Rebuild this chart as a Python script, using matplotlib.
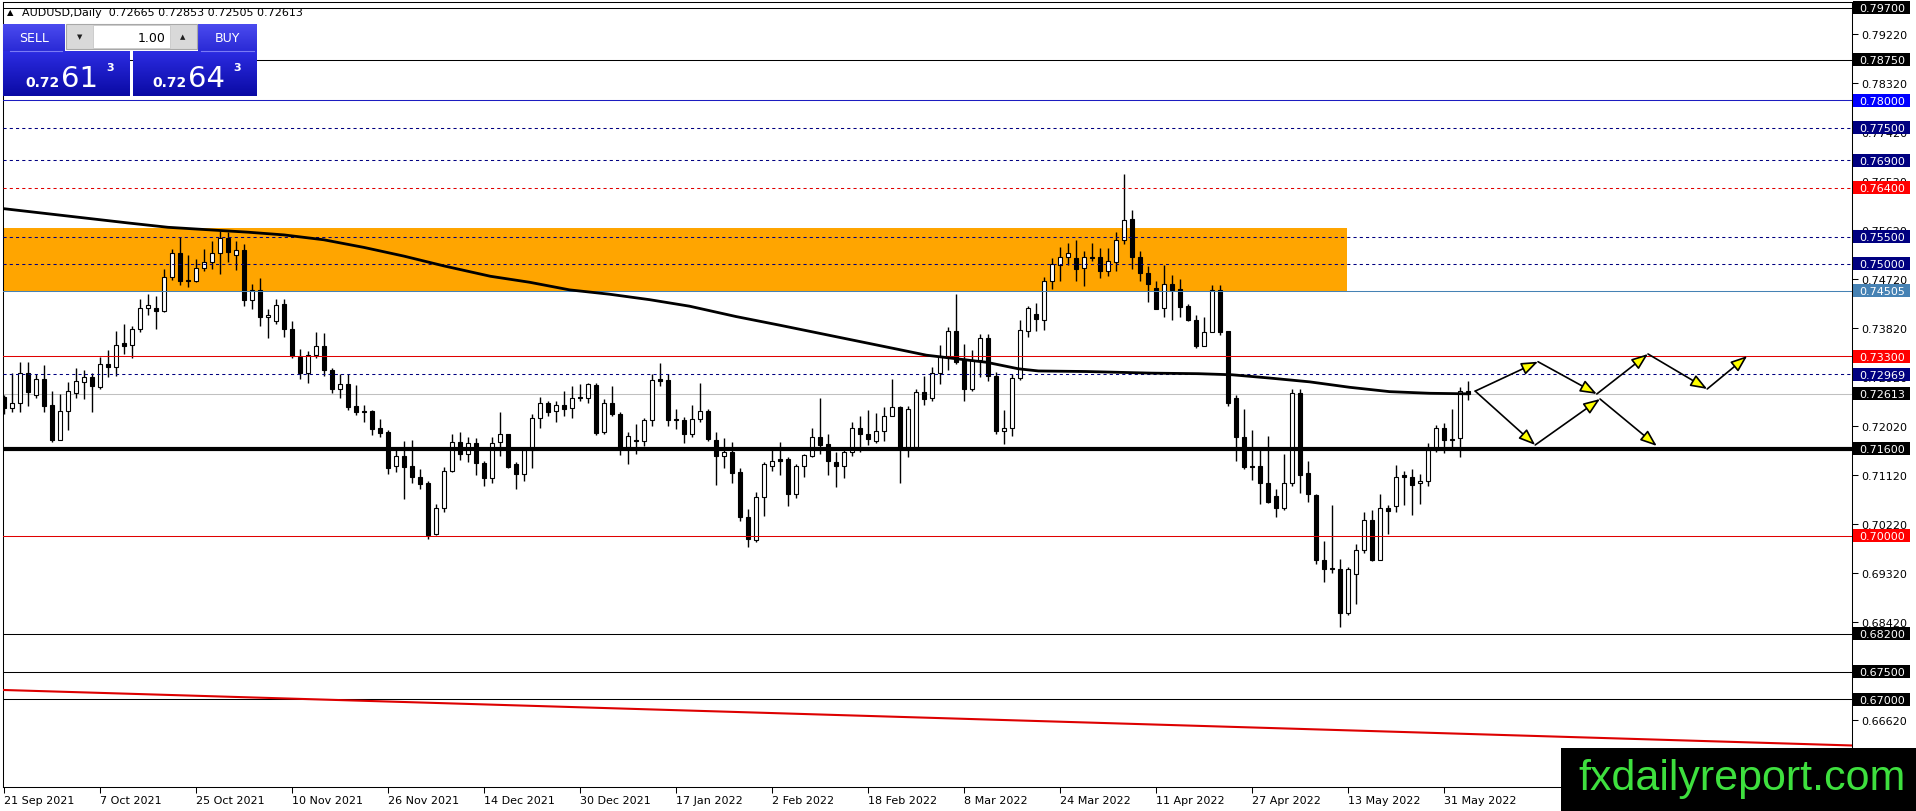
import matplotlib
matplotlib.use("Agg")
import matplotlib.pyplot as plt
import numpy as np
import pandas as pd
from matplotlib.patches import Rectangle, FancyArrowPatch
from matplotlib.colors import LinearSegmentedColormap
from matplotlib.transforms import blended_transform_factory

# AUDUSD daily bars, one per weekday from 21 Sep 2021
first_day = "2021-09-21"

opens = [
    0.7255, 0.7235, 0.7245, 0.7299, 0.7258, 0.7289, 0.7240, 0.7177, 0.7229, 0.7262,
    0.7283, 0.7292, 0.7273, 0.7316, 0.7310, 0.7354, 0.7351, 0.7381, 0.7418, 0.7418,
    0.7414, 0.7475, 0.7520, 0.7470, 0.7468, 0.7493, 0.7504, 0.7519, 0.7547, 0.7517,
    0.7525, 0.7433, 0.7451, 0.7402, 0.7394, 0.7426, 0.7381, 0.7329, 0.7299, 0.7332,
    0.7348, 0.7305, 0.7269, 0.7279, 0.7238, 0.7229, 0.7230, 0.7198, 0.7190, 0.7129,
    0.7146, 0.7129, 0.7109, 0.7097, 0.7003, 0.7052, 0.7120, 0.7173, 0.7150, 0.7171,
    0.7133, 0.7106, 0.7172, 0.7187, 0.7132, 0.7114, 0.7158, 0.7216, 0.7245, 0.7229,
    0.7241, 0.7235, 0.7255, 0.7253, 0.7277, 0.7190, 0.7244, 0.7224, 0.7163, 0.7176,
    0.7175, 0.7213, 0.7288, 0.7286, 0.7215, 0.7213, 0.7187, 0.7214, 0.7229, 0.7176,
    0.7146, 0.7155, 0.7117, 0.7034, 0.6993, 0.7071, 0.7129, 0.7141, 0.7141, 0.7077,
    0.7128, 0.7147, 0.7181, 0.7168, 0.7135, 0.7129, 0.7154, 0.7198, 0.7188, 0.7174,
    0.7192, 0.7221, 0.7236, 0.7164, 0.7163, 0.7264, 0.7253, 0.7299, 0.7331, 0.7376,
    0.7325, 0.7269, 0.7324, 0.7363, 0.7294, 0.7192, 0.7198, 0.7290, 0.7377, 0.7408,
    0.7397, 0.7468, 0.7498, 0.7512, 0.7511, 0.7492, 0.7512, 0.7512, 0.7486, 0.7503,
    0.7544, 0.7582, 0.7513, 0.7483, 0.7455, 0.7418, 0.7463, 0.7454, 0.7422, 0.7397,
    0.7349, 0.7374, 0.7451, 0.7377, 0.7253, 0.7181, 0.7128, 0.7128, 0.7098, 0.7073,
    0.7051, 0.7098, 0.7262, 0.7115, 0.7075, 0.6956, 0.6941, 0.6940, 0.6858, 0.6930,
    0.6974, 0.7030, 0.6956, 0.7051, 0.7054, 0.7111, 0.7108, 0.7097, 0.7100, 0.7158,
    0.7199, 0.7178, 0.7179, 0.72665,
]
highs = [
    0.7258, 0.7299, 0.7319, 0.7319, 0.7297, 0.7314, 0.7267, 0.7261, 0.7282, 0.7308,
    0.7304, 0.7299, 0.7329, 0.7342, 0.7376, 0.7389, 0.7386, 0.7435, 0.7444, 0.7440,
    0.7490, 0.7527, 0.7550, 0.7516, 0.7509, 0.7528, 0.7541, 0.7561, 0.7558, 0.7542,
    0.7536, 0.7463, 0.7473, 0.7417, 0.7435, 0.7435, 0.7395, 0.7343, 0.7339, 0.7374,
    0.7372, 0.7308, 0.7297, 0.7297, 0.7277, 0.7240, 0.7232, 0.7214, 0.7195, 0.7160,
    0.7175, 0.7177, 0.7123, 0.7101, 0.7059, 0.7126, 0.7187, 0.7190, 0.7181, 0.7179,
    0.7138, 0.7181, 0.7227, 0.7188, 0.7135, 0.7160, 0.7224, 0.7255, 0.7247, 0.7248,
    0.7267, 0.7275, 0.7279, 0.7281, 0.7280, 0.7252, 0.7275, 0.7227, 0.7190, 0.7206,
    0.7216, 0.7297, 0.7318, 0.7297, 0.7233, 0.7218, 0.7241, 0.7280, 0.7233, 0.7190,
    0.7179, 0.7172, 0.7124, 0.7049, 0.7080, 0.7135, 0.7158, 0.7172, 0.7144, 0.7132,
    0.7150, 0.7198, 0.7253, 0.7188, 0.7154, 0.7157, 0.7209, 0.7220, 0.7232, 0.7226,
    0.7236, 0.7288, 0.7239, 0.7239, 0.7269, 0.7293, 0.7310, 0.7351, 0.7384, 0.7444,
    0.7353, 0.7342, 0.7371, 0.7371, 0.7301, 0.7231, 0.7298, 0.7396, 0.7422, 0.7428,
    0.7475, 0.7511, 0.7530, 0.7539, 0.7544, 0.7523, 0.7539, 0.7529, 0.7529, 0.7559,
    0.7665, 0.7598, 0.7524, 0.7495, 0.7469, 0.7498, 0.7479, 0.7472, 0.7426, 0.7406,
    0.7403, 0.7461, 0.7461, 0.7377, 0.7258, 0.7233, 0.7194, 0.7158, 0.7183, 0.7086,
    0.7150, 0.7269, 0.7269, 0.7138, 0.7077, 0.6990, 0.7057, 0.6957, 0.6942, 0.6985,
    0.7043, 0.7048, 0.7077, 0.7056, 0.7130, 0.7120, 0.7123, 0.7114, 0.7170, 0.7203,
    0.7207, 0.7233, 0.7273, 0.72853,
]
lows = [
    0.7224, 0.7227, 0.7227, 0.7239, 0.7253, 0.7228, 0.7173, 0.7176, 0.7195, 0.7253,
    0.7252, 0.7228, 0.7269, 0.7291, 0.7294, 0.7334, 0.7326, 0.7375, 0.7406, 0.7380,
    0.7411, 0.7470, 0.7461, 0.7457, 0.7466, 0.7487, 0.7490, 0.7481, 0.7503, 0.7489,
    0.7423, 0.7417, 0.7386, 0.7363, 0.7389, 0.7365, 0.7326, 0.7288, 0.7280, 0.7326,
    0.7294, 0.7262, 0.7253, 0.7232, 0.7222, 0.7210, 0.7185, 0.7182, 0.7114, 0.7117,
    0.7067, 0.7097, 0.7087, 0.6995, 0.7002, 0.7043, 0.7117, 0.7140, 0.7136, 0.7112,
    0.7092, 0.7097, 0.7147, 0.7124, 0.7086, 0.7101, 0.7124, 0.7199, 0.7221, 0.7209,
    0.7221, 0.7216, 0.7247, 0.7245, 0.7185, 0.7187, 0.7220, 0.7149, 0.7132, 0.7150,
    0.7166, 0.7202, 0.7276, 0.7201, 0.7196, 0.7170, 0.7182, 0.7209, 0.7175, 0.7093,
    0.7124, 0.7098, 0.7028, 0.6979, 0.6988, 0.7036, 0.7120, 0.7111, 0.7054, 0.7069,
    0.7109, 0.7144, 0.7150, 0.7111, 0.7089, 0.7106, 0.7146, 0.7154, 0.7167, 0.7170,
    0.7175, 0.7220, 0.7097, 0.7144, 0.7163, 0.7240, 0.7247, 0.7279, 0.7304, 0.7316,
    0.7248, 0.7267, 0.7291, 0.7285, 0.7187, 0.7169, 0.7184, 0.7287, 0.7365, 0.7377,
    0.7379, 0.7454, 0.7469, 0.7498, 0.7469, 0.7460, 0.7505, 0.7474, 0.7477, 0.7486,
    0.7536, 0.7490, 0.7469, 0.7429, 0.7416, 0.7403, 0.7396, 0.7402, 0.7394, 0.7346,
    0.7348, 0.7374, 0.7369, 0.7239, 0.7138, 0.7122, 0.7103, 0.7059, 0.7060, 0.7034,
    0.7048, 0.7091, 0.7079, 0.7062, 0.6948, 0.6915, 0.6931, 0.6832, 0.6855, 0.6875,
    0.6968, 0.6953, 0.6955, 0.7003, 0.7044, 0.7057, 0.7039, 0.7059, 0.7092, 0.7155,
    0.7152, 0.7163, 0.7144, 0.72505,
]
closes = [
    0.7235, 0.7244, 0.7299, 0.7265, 0.7289, 0.7239, 0.7177, 0.7229, 0.7266, 0.7285,
    0.7292, 0.7275, 0.7315, 0.7310, 0.7351, 0.7349, 0.7381, 0.7418, 0.7424, 0.7414,
    0.7475, 0.7520, 0.7469, 0.7469, 0.7493, 0.7504, 0.7520, 0.7547, 0.7521, 0.7525,
    0.7434, 0.7452, 0.7402, 0.7406, 0.7425, 0.7381, 0.7331, 0.7299, 0.7333, 0.7348,
    0.7305, 0.7269, 0.7279, 0.7236, 0.7227, 0.7227, 0.7196, 0.7189, 0.7124, 0.7146,
    0.7127, 0.7108, 0.7095, 0.7002, 0.7052, 0.7120, 0.7173, 0.7150, 0.7171, 0.7133,
    0.7106, 0.7171, 0.7187, 0.7126, 0.7114, 0.7157, 0.7216, 0.7245, 0.7227, 0.7241,
    0.7234, 0.7253, 0.7253, 0.7279, 0.7189, 0.7244, 0.7223, 0.7163, 0.7183, 0.7174,
    0.7213, 0.7286, 0.7285, 0.7212, 0.7212, 0.7187, 0.7215, 0.7229, 0.7178, 0.7146,
    0.7155, 0.7116, 0.7034, 0.6994, 0.7071, 0.7132, 0.7138, 0.7138, 0.7077, 0.7128,
    0.7149, 0.7181, 0.7167, 0.7138, 0.7129, 0.7154, 0.7198, 0.7188, 0.7178, 0.7192,
    0.7221, 0.7236, 0.7163, 0.7234, 0.7264, 0.7252, 0.7299, 0.7331, 0.7376, 0.7320,
    0.7269, 0.7324, 0.7363, 0.7294, 0.7192, 0.7198, 0.7290, 0.7378, 0.7418, 0.7399,
    0.7468, 0.7500, 0.7512, 0.7519, 0.7490, 0.7512, 0.7511, 0.7486, 0.7505, 0.7544,
    0.7580, 0.7512, 0.7483, 0.7462, 0.7417, 0.7463, 0.7452, 0.7421, 0.7397, 0.7349,
    0.7374, 0.7451, 0.7374, 0.7245, 0.7181, 0.7126, 0.7127, 0.7098, 0.7063, 0.7051,
    0.7098, 0.7262, 0.7112, 0.7077, 0.6955, 0.6939, 0.6939, 0.6858, 0.6940, 0.6974,
    0.7030, 0.6956, 0.7051, 0.7045, 0.7109, 0.7108, 0.7094, 0.7100, 0.7158, 0.7199,
    0.7177, 0.7177, 0.7267, 0.72613,
]

# moving average (read at a few bars)
ma_bars = [-0.5, 15.5, 20.5, 30.5, 35, 40, 45, 50, 55, 60.8, 65.7, 70.7, 75.7, 80.7,
           85.7, 91.5, 97, 102, 107, 112, 115.3, 118.7, 122.8, 126.8, 129.3, 135.2,
           143.5, 149.3, 153.5, 158.2, 163.2, 168.2, 173.2, 178.2, 183]
ma_values = [0.7602, 0.7575, 0.7567, 0.7558, 0.7553, 0.7544, 0.7530, 0.7514, 0.7496,
             0.7477, 0.7466, 0.7452, 0.7444, 0.7434, 0.7422, 0.7403, 0.7387, 0.7372,
             0.7357, 0.7342, 0.7332, 0.7326, 0.7319, 0.7307, 0.7303, 0.7302, 0.7299,
             0.7298, 0.7296, 0.7290, 0.7283, 0.7273, 0.7265, 0.7262, 0.7261]

# supply zone
zone_low = 0.74505
zone_high = 0.7565
zone_end_bar = 167.9

# long red trend line
trend_bars = [-0.125, 231.0]
trend_values = [0.67168, 0.66148]

# horizontal levels and their look
level_prices = [0.7970, 0.7875, 0.7800, 0.7750, 0.7690, 0.7640, 0.7550, 0.7500, 0.74505,
                0.7330, 0.72969, 0.72613, 0.7160, 0.7000, 0.6820, 0.6750, 0.6700]
level_kinds = ["black", "black", "blue", "navy", "navy", "reddash", "navy", "navy", "steel",
               "red", "navy", "bid", "thick", "red", "black", "black", "black"]

price_ticks = [0.66620, 0.67520, 0.68420, 0.69320, 0.70220, 0.71120, 0.72020, 0.72920,
               0.73820, 0.74720, 0.75620, 0.76520, 0.77420, 0.78320, 0.79220]

# projected zig-zag paths (bar, price)
path_start = (183.9, 0.7266)
upper_path = [(191.75, 0.7320), (199.1, 0.72607), (205.5, 0.73342), (212.9, 0.72699), (217.9, 0.73305)]
lower_path = [(191.4, 0.7167), (199.5, 0.72515), (206.6, 0.71652)]

ask_price = 0.72643
lot_size = "1.00"

STYLE = {
    "black": dict(color="black", ls="-", lw=0.75, box="black"),
    "blue": dict(color="#1c1cc0", ls="-", lw=0.75, box="#0000ff"),
    "navy": dict(color="#000080", ls=(0, (3, 3)), lw=0.75, box="#000080"),
    "reddash": dict(color="#e00000", ls=(0, (3, 3)), lw=0.75, box="#ff0000"),
    "red": dict(color="#e00000", ls="-", lw=0.75, box="#ff0000"),
    "steel": dict(color="#4682b4", ls="-", lw=0.75, box="#4682b4"),
    "bid": dict(color="#c0c0c0", ls="-", lw=0.75, box="black"),
    "thick": dict(color="black", ls="-", lw=3.0, box="black"),
}

W, H = 1916, 812
fig = plt.figure(figsize=(W / 100, H / 100), dpi=100)
fig.patch.set_facecolor("white")
ax = fig.add_axes([3 / W, 24 / H, 1849 / W, 785 / H])
ax.set_facecolor("white")
ax.set_xlim(-0.125, 231.0)
ax.set_ylim(0.65385, 0.79810)

n = len(opens)
x = np.arange(n)
o = np.array(opens)
c = np.array(closes)
hi = np.array(highs)
lo = np.array(lows)

# zone
ax.add_patch(Rectangle((-1, zone_low), zone_end_bar + 1, zone_high - zone_low,
                       facecolor="#ffa500", edgecolor="none", zorder=1))

# candles
ax.vlines(x, lo, hi, color="black", linewidth=1.0, zorder=3)
body_low = np.minimum(o, c)
body_h = np.maximum(np.abs(c - o), 0.00004)
colors = ["white" if cc > oo else "black" for oo, cc in zip(o, c)]
ax.bar(x, body_h, bottom=body_low, width=0.5, color=colors, edgecolor="black",
       linewidth=0.8, zorder=4)

# levels
bt = blended_transform_factory(ax.transAxes, ax.transData)
PX = 1 / 1849
PY = 1 / 5442
for p, k in zip(level_prices, level_kinds):
    st = STYLE[k]
    ax.axhline(p, color=st["color"], ls=st["ls"], lw=st["lw"], zorder=2 if k == "bid" else 5)
    ax.add_patch(Rectangle((1 + 1 * PX, p - 6.5 * PY), 57 * PX, 13 * PY, transform=bt,
                           facecolor=st["box"], edgecolor="none", clip_on=False, zorder=9))
    ax.text(1 + 7 * PX, p - 0.5 * PY, f"{p:.5f}", transform=bt, color="white", fontsize=8,
            va="center", ha="left", clip_on=False, zorder=10)

# trend line and moving average
ax.plot(trend_bars, trend_values, color="#dd0000", lw=1.5, zorder=5)
ax.plot(ma_bars, ma_values, color="black", lw=2.0, zorder=6, solid_capstyle="butt")


def draw_path(points):
    for a, b in zip(points[:-1], points[1:]):
        ax.add_patch(FancyArrowPatch(a, b, arrowstyle="-|>,head_length=1.0,head_width=0.38",
                                     mutation_scale=10, facecolor="#ffff00", edgecolor="black",
                                     lw=1.2, shrinkA=0, shrinkB=0, zorder=8))


draw_path([path_start] + upper_path)
draw_path([path_start] + lower_path)

# axes
dates = pd.bdate_range(first_day, periods=n)
tick_bars = list(range(0, n, 12))
ax.set_xticks(tick_bars)
ax.set_xticklabels([f"{dates[i].day} {dates[i]:%b %Y}" for i in tick_bars], ha="left", fontsize=8)
ax.tick_params(axis="x", direction="out", length=4, width=0.75, pad=2)
ax.yaxis.tick_right()
ax.set_yticks(price_ticks)
ax.set_yticklabels([f"{t:.5f}" for t in price_ticks], fontsize=8)
ax.tick_params(axis="y", direction="out", length=4, width=0.75, pad=3)
for s in ax.spines.values():
    s.set_color("black")
    s.set_linewidth(0.75)

# overlay: trade panel, title, watermark (pixel coordinates)
pax = fig.add_axes([0, 0, 1, 1], zorder=20)
pax.axis("off")


def grad(x0, y0, x1, y1, top, bottom):
    cm = LinearSegmentedColormap.from_list("g", [top, bottom])
    pax.imshow(np.linspace(0, 1, 64).reshape(-1, 1), cmap=cm, extent=(x0, x1, y1, y0),
               aspect="auto", interpolation="bilinear", zorder=1)


grad(3, 25, 65, 52, "#4b4bef", "#2a2ad6")
grad(198, 25, 257, 52, "#4b4bef", "#2a2ad6")
grad(3, 52, 130, 97, "#2c2ce2", "#0a0aa4")
grad(133, 52, 257, 97, "#2c2ce2", "#0a0aa4")
pax.plot([10, 62], [52, 52], color="#7a7af5", lw=0.8, zorder=2)
pax.plot([201, 254], [52, 52], color="#7a7af5", lw=0.8, zorder=2)
pax.add_patch(Rectangle((66, 25), 131, 25, facecolor="#d9d9d9", edgecolor="#a8a8a8", lw=0.8, zorder=2))
pax.add_patch(Rectangle((93, 26), 77, 23, facecolor="white", edgecolor="#c8c8c8", lw=0.6, zorder=3))
pax.text(80, 37.5, "▼", fontsize=5, ha="center", va="center", color="#202020", zorder=4)
pax.text(183, 37.5, "▲", fontsize=5, ha="center", va="center", color="#202020", zorder=4)
pax.text(166, 38, lot_size, fontsize=9, ha="right", va="center", color="black", zorder=4)
pax.text(34, 38.5, "SELL", fontsize=9, ha="center", va="center", color="white", zorder=4)
pax.text(227, 38.5, "BUY", fontsize=9, ha="center", va="center", color="white", zorder=4)

for price, x0 in [(closes[-1], 25), (ask_price, 152)]:
    s = f"{price:.5f}"
    pax.text(x0, 87, s[:4], fontsize=10, fontweight="bold", color="white", va="baseline", zorder=4)
    pax.text(x0 + 36, 87, s[4:6], fontsize=21, color="white", va="baseline", zorder=4)
    pax.text(x0 + 81, 71, s[6], fontsize=8, fontweight="bold", color="white", va="baseline", zorder=4)

pax.text(7, 13, "▲", fontsize=6, va="center", color="black")
pax.text(22, 13, f"AUDUSD,Daily  {opens[-1]:.5f} {highs[-1]:.5f} {lows[-1]:.5f} {closes[-1]:.5f}",
         fontsize=8, va="center", color="black")

pax.add_patch(Rectangle((1561, 749), W - 1561, H - 749, facecolor="black", edgecolor="none", zorder=5))
pax.text(1578, 790, "fxdailyreport.com", fontsize=31, family="Liberation Sans", color="#3ee03e",
         va="baseline", ha="left", zorder=6)

pax.set_xlim(0, W)
pax.set_ylim(H, 0)

fig.savefig("out.png", dpi=100)
